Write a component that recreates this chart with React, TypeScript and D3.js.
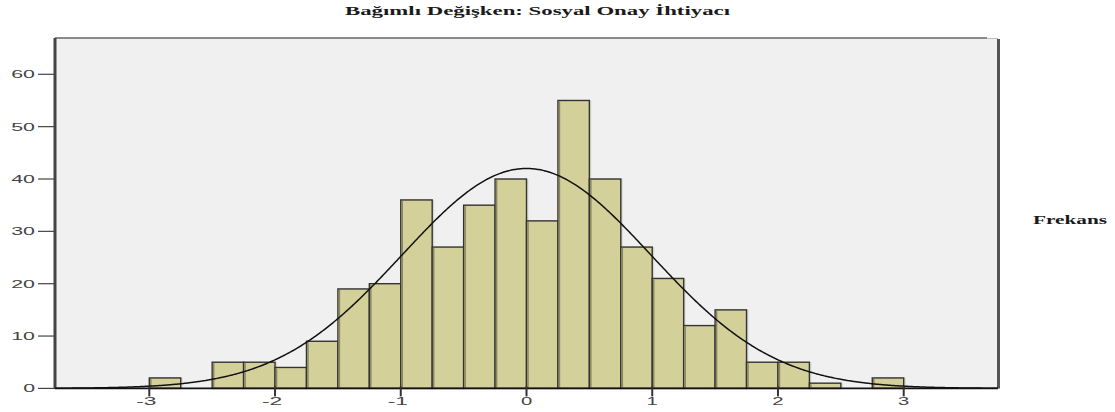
import React from "react";
import * as d3 from "d3";

const title = "Bağımlı Değişken: Sosyal Onay İhtiyacı";
const sideLabel = "Frekans";

// Histogram bins (left edge, width 0.25) and frequencies
const binStarts = [-3.0, -2.5, -2.25, -2.0, -1.75, -1.5, -1.25, -1.0, -0.75, -0.5, -0.25, 0, 0.25, 0.5, 0.75, 1.0, 1.25, 1.5, 1.75, 2.0, 2.25, 2.75];
const counts = [2, 5, 5, 4, 9, 19, 20, 36, 27, 35, 40, 32, 55, 40, 27, 21, 12, 15, 5, 5, 1, 2];
const binWidth = 0.25;

const yTicks = [0, 10, 20, 30, 40, 50, 60];
const xTicks = [-3, -2, -1, 0, 1, 2, 3];

// Normal curve parameters
const curveMean = 0;
const curveSd = 0.99;
const curveN = 417;

const W = 1115;
const H = 412;
const left = 55;
const right = 998;
const top = 38;
const bottom = 388.4;

function labelLen(s: string) {
  let w = 0;
  for (const c of s) w += c === "-" ? 10 : 12.5;
  return w;
}

export default function App() {
  const x = d3.scaleLinear().domain([-3.75, 3.75]).range([left, right]);
  const y = d3.scaleLinear().domain([0, 60]).range([bottom, 74.3]);

  const pts = d3.range(-3.75, 3.7501, 0.01).map((v) => {
    const z = (v - curveMean) / curveSd;
    const dens = Math.exp(-0.5 * z * z) / (curveSd * Math.sqrt(2 * Math.PI));
    return [v, dens * curveN * binWidth] as [number, number];
  });
  const line = d3
    .line<[number, number]>()
    .x((d) => x(d[0]))
    .y((d) => y(d[1]))
    .curve(d3.curveBasis);

  return (
    <svg width={W} height={H} style={{ display: "block", position: "absolute", left: 0, top: 0 }}>
      <rect x={0} y={0} width={W} height={H} fill="#ffffff" />
      <text
        x={345}
        y={15}
        fontFamily="Liberation Serif, Times New Roman, serif"
        fontWeight="bold"
        fontSize={13}
        fill="#1a1a1a"
        textLength={385}
        lengthAdjust="spacingAndGlyphs"
      >
        {title}
      </text>
      {/* plot background */}
      <rect x={left} y={top} width={right - left} height={bottom - top} fill="#f0f0f0" />
      {/* top border */}
      <line x1={left} x2={987} y1={top} y2={top} stroke="#666" strokeWidth={1.5} />
      <line x1={987} x2={right} y1={top + 0.5} y2={top + 0.5} stroke="#bbb" strokeWidth={1} />
      {/* right border */}
      <line x1={998.5} x2={998.5} y1={top + 1} y2={bottom} stroke="#555" strokeWidth={3} />

      {/* bars */}
      {binStarts.map((b, i) => (
        <g key={i}>
          <rect
            x={x(b) + 2}
            y={y(counts[i])}
            width={x(b + binWidth) - x(b)}
            height={bottom - y(counts[i])}
            fill="#c8c8c0"
            opacity={0.6}
          />
          <rect
            x={x(b)}
            y={y(counts[i])}
            width={x(b + binWidth) - x(b)}
            height={bottom - y(counts[i])}
            fill="#d4d09a"
            stroke="#333"
            strokeWidth={1.4}
          />
          <line
            x1={x(b) + 1.5}
            x2={x(b) + 1.5}
            y1={y(counts[i]) + 1}
            y2={bottom}
            stroke="#8a8660"
            strokeWidth={1.5}
          />
        </g>
      ))}

      {/* normal curve */}
      <path d={line(pts) || ""} fill="none" stroke="#111" strokeWidth={1.5} />

      {/* left axis */}
      <line x1={left} x2={left} y1={top} y2={bottom} stroke="#444" strokeWidth={3} />
      {yTicks.map((t) => (
        <g key={t}>
          <line x1={38} x2={left} y1={y(t)} y2={y(t)} stroke="#444" strokeWidth={1.2} />
          <text
            x={35}
            y={y(t) + 4}
            textAnchor="end"
            fontFamily="Liberation Sans, Arial, sans-serif"
            fontSize={11}
            fill="#444"
            textLength={labelLen(String(t)) * 0.95}
            lengthAdjust="spacingAndGlyphs"
          >
            {t}
          </text>
        </g>
      ))}

      {/* bottom axis */}
      <line x1={left} x2={right} y1={bottom} y2={bottom} stroke="#111" strokeWidth={1.8} />
      {xTicks.map((t) => (
        <g key={t}>
          <line x1={x(t)} x2={x(t)} y1={bottom - 2} y2={bottom + 8} stroke="#333" strokeWidth={2} />
          <text
            x={x(t) - (t < 0 ? 3 : 0)}
            y={405}
            textAnchor="middle"
            fontFamily="Liberation Sans, Arial, sans-serif"
            fontSize={11}
            fill="#444"
            textLength={labelLen(String(t)) * 0.9}
            lengthAdjust="spacingAndGlyphs"
          >
            {t}
          </text>
        </g>
      ))}

      <text
        x={1033}
        y={224}
        fontFamily="Liberation Serif, Times New Roman, serif"
        fontWeight="bold"
        fontSize={12}
        fill="#1a1a1a"
        textLength={74}
        lengthAdjust="spacingAndGlyphs"
      >
        {sideLabel}
      </text>
    </svg>
  );
}
